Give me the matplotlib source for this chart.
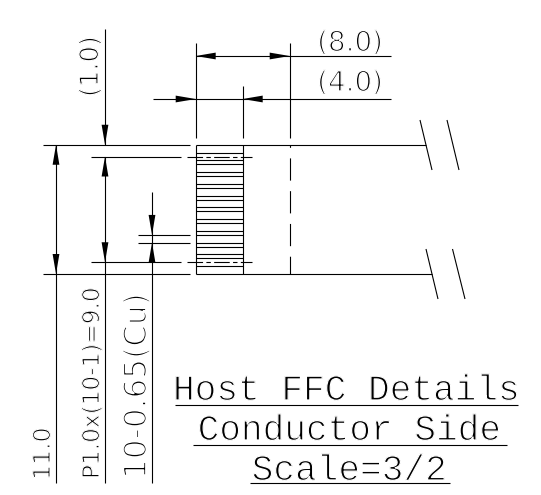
import matplotlib
matplotlib.use("Agg")
import matplotlib.pyplot as plt
import matplotlib.patheffects as pe

# drawing dimensions, mm
ffc_height = 11.0
ffc_width = 8.0
cond_length = 4.0
cond_pitch = 1.0
cond_count = 10
cond_width = 0.65

# callouts
title_lines = ["Host FFC Details", "Conductor Side", "Scale=3/2"]
dim_top = ["(8.0)", "(4.0)"]
dim_side = ["(1.0)", "11.0", "P1.0x(10-1)=9.0", "10-0.65(Cu)"]

# the sheet is drawn 1.5x, which comes out at 11.75 px per mm here
PX = 11.75
X0 = 195.7
Y0 = 274.0
W, H = 541, 495


def mx(px):
    return (px - X0) / PX


def my(py):
    return (Y0 - py) / PX


fig = plt.figure(figsize=(W / 100, H / 100), dpi=100)
ax = fig.add_axes([0, 0, 1, 1])
ax.set_xlim(mx(0), mx(W))
ax.set_ylim(my(H), my(0))
ax.axis("off")

LW = 0.8


def line(x, y, **kw):
    kw.setdefault("color", "black")
    kw.setdefault("lw", LW)
    ax.plot(x, y, solid_capstyle="butt", **kw)


def arrow(x, y, dx, dy):
    # tip at x, y, body running back along dx, dy
    length = 20 / PX
    half = 3.4 / PX
    bx = x + dx * length
    by = y + dy * length
    ax.fill([x, bx + dy * half, bx - dy * half],
            [y, by + dx * half, by - dx * half], color="black", lw=0)


conductors = [cond_pitch * (i + 1) for i in range(cond_count)]
first, last = conductors[-1], conductors[0]

# cable outline
line([0, mx(426)], [ffc_height, ffc_height])
line([0, mx(432)], [0, 0])
line([0, 0], [0, ffc_height])
line([cond_length, cond_length], [0, ffc_height])
line([ffc_width, ffc_width], [0, ffc_height], lw=LW, ls=(4, (20, 9.5)))

# conductors
for c in conductors:
    line([0, cond_length], [c - cond_width / 2, c - cond_width / 2])
    line([0, cond_length], [c + cond_width / 2, c + cond_width / 2])
for c in (first, last):
    line([mx(187), mx(252)], [c, c], ls=(0, (14, 3, 4, 3)))

# break marks
for x_a, x_b, y_a, y_b in [(420, 432, 120, 170), (447, 459, 120, 170),
                           (426, 438, 249, 299), (452.5, 465, 249, 299)]:
    line([mx(x_a), mx(x_b)], [my(y_a), my(y_b)])

# extension lines, left side
for y in (ffc_height, 0):
    line([mx(43), mx(190)], [y, y])
for y in (first, last):
    line([mx(91), mx(181)], [y, y])
c3 = conductors[2]
for y in (c3 + cond_width / 2, c3 - cond_width / 2):
    line([mx(138), mx(190)], [y, y])

# extension lines, top
for x, top in [(0, 43), (cond_length, 86), (ffc_width, 43)]:
    line([x, x], [my(138), my(top)])

# 8.0 and 4.0
y8 = my(56)
y4 = my(99)
line([0, mx(391)], [y8, y8])
line([mx(153), mx(391)], [y4, y4])
arrow(0, y8, 1, 0)
arrow(ffc_width, y8, -1, 0)
arrow(0, y4, -1, 0)
arrow(cond_length, y4, 1, 0)

# 11.0
x11 = mx(56)
line([x11, x11], [ffc_height, my(483)])
arrow(x11, ffc_height, 0, -1)
arrow(x11, 0, 0, 1)

# 1.0 and 9.0
x9 = mx(105)
line([x9, x9], [my(29), ffc_height])
line([x9, x9], [first, my(483)])
arrow(x9, ffc_height, 0, 1)
arrow(x9, first, 0, -1)
arrow(x9, last, 0, 1)

# 0.65
x65 = mx(152)
line([x65, x65], [my(192), my(483)])
arrow(x65, c3 + cond_width / 2, 0, 1)
arrow(x65, c3 - cond_width / 2, 0, -1)

# title underlines
for y, a, b in [(405, 175, 518), (445, 193, 507), (483, 250, 450)]:
    line([mx(a), mx(b)], [my(y), my(y)])


def label(x, y, s, size, family="DejaVu Sans", erode=0.8, **kw):
    # white stroke over the fill brings the glyphs down to a pen-plot weight
    ax.text(mx(x), my(y), s, fontsize=size, family=family, va="baseline",
            path_effects=[pe.Normal(), pe.Stroke(linewidth=erode, foreground="white")],
            **kw)


for s, y, x in zip(title_lines, [400, 440, 480], [346, 349, 349]):
    label(x, y, s, 26, family="Liberation Mono", erode=0.9, ha="center")
for s, y in zip(dim_top, [51, 91]):
    label(350, y, s, 20, erode=1.0, ha="center")

# rotated callouts read upward, baseline on the right
rot = dict(rotation=90, rotation_mode="anchor")
label(98, 97, dim_side[0], 18.5, erode=0.9, ha="left", **rot)
label(50, 480, dim_side[1], 17, erode=0.85, ha="left", **rot)
label(99, 479, dim_side[2], 16.7, erode=0.8, ha="left", **rot)
label(146, 479, dim_side[3], 22.4, erode=1.3, ha="left", **rot)

fig.savefig("out.png", dpi=100)
